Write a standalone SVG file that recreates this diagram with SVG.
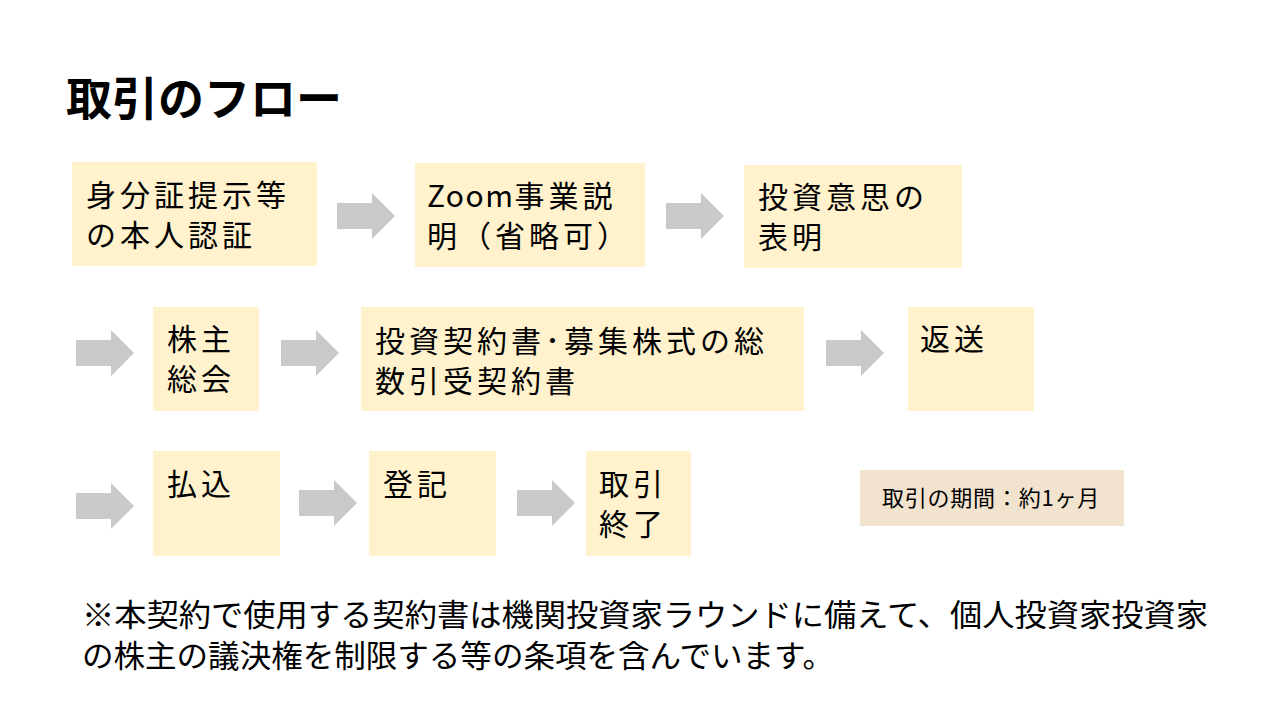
<svg xmlns="http://www.w3.org/2000/svg" xmlns:xlink="http://www.w3.org/1999/xlink" width="1280" height="719" viewBox="0 0 1280 719">
<style>
  .box { fill: #FFF2CC; }
  .t { font-family: "Noto Sans CJK JP", "Noto Sans", sans-serif; font-size: 30px; fill: #000; letter-spacing: 4px; }
  .title { font-family: "Noto Sans CJK JP", sans-serif; font-size: 46px; font-weight: bold; fill: #000; }
  .note { font-family: "Noto Sans CJK JP", sans-serif; font-size: 31px; fill: #000; }
  .period { font-family: "Noto Sans CJK JP", sans-serif; font-size: 22px; fill: #000; letter-spacing: 0.8px; }
  .arrow { fill: #C9C9C9; }
</style>
<defs>
  <path id="arr" d="M0,-13 H35 V-23 L58,0 L35,23 V13 H0 Z"/>
</defs>
<rect width="1280" height="719" fill="#FFFFFF"/>
<text class="title" x="66" y="115">取引のフロー</text>

<g id="connectors" class="arrow">
  <use xlink:href="#arr" transform="translate(337,216)"/>
  <use xlink:href="#arr" transform="translate(666,216)"/>
  <use xlink:href="#arr" transform="translate(76,353)"/>
  <use xlink:href="#arr" transform="translate(281,353)"/>
  <use xlink:href="#arr" transform="translate(826,353)"/>
  <use xlink:href="#arr" transform="translate(76,506)"/>
  <use xlink:href="#arr" transform="translate(299,503)"/>
  <use xlink:href="#arr" transform="translate(517,503)"/>
</g>

<g id="n1"><rect class="box" x="72" y="162" width="245" height="104"/>
  <text class="t" x="86" y="206">身分証提示等</text><text class="t" x="86" y="246">の本人認証</text></g>
<g id="n2"><rect class="box" x="415" y="163" width="230" height="104"/>
  <text class="t" x="427" y="207"><tspan letter-spacing="1.5">Zoom</tspan>事業説</text><text class="t" x="427" y="247" letter-spacing="2">明（省略可）</text></g>
<g id="n3"><rect class="box" x="744" y="165" width="218" height="103"/>
  <text class="t" x="758" y="208">投資意思の</text><text class="t" x="758" y="248">表明</text></g>
<g id="n4"><rect class="box" x="153" y="307" width="106" height="104"/>
  <text class="t" x="167" y="350">株主</text><text class="t" x="167" y="390">総会</text></g>
<g id="n5"><rect class="box" x="361" y="307" width="443" height="104"/>
  <text class="t" x="375" y="352">投資契約書･募集株式の総</text><text class="t" x="375" y="392">数引受契約書</text></g>
<g id="n6"><rect class="box" x="908" y="307" width="126" height="104"/>
  <text class="t" x="920" y="350">返送</text></g>
<g id="n7"><rect class="box" x="153" y="451" width="127" height="105"/>
  <text class="t" x="167" y="495">払込</text></g>
<g id="n8"><rect class="box" x="369" y="451" width="127" height="105"/>
  <text class="t" x="383" y="495">登記</text></g>
<g id="n9"><rect class="box" x="586" y="451" width="105" height="105"/>
  <text class="t" x="599" y="495">取引</text><text class="t" x="599" y="535">終了</text></g>
<g id="period"><rect x="860" y="470" width="264" height="56" fill="#F1E3CD"/>
  <text class="period" x="991" y="506" text-anchor="middle">取引の期間：約1ヶ月</text></g>

<text class="note" x="82" y="626" textLength="1126" lengthAdjust="spacingAndGlyphs">※本契約で使用する契約書は機関投資家ラウンドに備えて、個人投資家投資家</text>
<text class="note" x="82" y="667" textLength="752" lengthAdjust="spacingAndGlyphs">の株主の議決権を制限する等の条項を含んでいます。</text>
</svg>
